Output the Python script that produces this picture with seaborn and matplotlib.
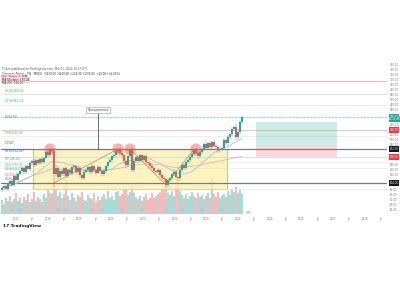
import numpy as np
import pandas as pd
import matplotlib
matplotlib.use("Agg")
import matplotlib.pyplot as plt
import matplotlib.transforms as mtransforms
from matplotlib.patches import Rectangle
import seaborn as sns

# ---------------- data ----------------
closes = [
    94, 98, 92, 102, 108, 100, 118, 110, 122, 128,
    134, 126, 138, 132, 144, 148, 140, 150, 144, 152,
    146, 154, 166, 160, 170, 168, 122, 134, 116, 128,
    122, 134, 118, 130, 124, 136, 138, 126, 134, 120,
    114, 126, 130, 136, 126, 138, 130, 124, 136, 128,
    122, 128, 138, 146, 150, 158, 160, 168, 172, 164,
    160, 148, 140, 158, 170, 130, 148, 156, 148, 160,
    150, 158, 146, 144, 138, 134, 128, 126, 130, 120,
    114, 112, 100, 110, 114, 122, 126, 116, 114, 130,
    140, 134, 146, 150, 156, 162, 170, 164, 158, 166,
    172, 182, 174, 184, 176, 186, 178, 176, 170, 172,
    174, 190, 184, 196, 202, 212, 216, 196, 206, 226,
    236]
first_open = 90
wick_hi = [
    3, 2, 4, 3, 2, 5, 3, 4, 2, 3,
    4, 3, 2, 5, 3, 2, 4, 3, 3, 2,
    4, 3, 3, 4, 4, 4, 3, 4, 5, 3,
    4, 3, 5, 2, 4, 3, 4, 3, 2, 4,
    3, 5, 4, 3, 2, 4, 3, 3, 4, 2,
    3, 4, 3, 2, 4, 3, 3, 4, 3, 4,
    3, 5, 4, 3, 3, 6, 4, 3, 4, 3,
    3, 2, 4, 3, 3, 4, 2, 3, 4, 3,
    3, 4, 2, 4, 3, 3, 4, 5, 3, 4,
    3, 4, 3, 2, 4, 3, 3, 4, 5, 3,
    4, 3, 4, 3, 5, 3, 4, 3, 2, 4,
    3, 4, 3, 4, 3, 4, 3, 6, 3, 4,
    2]
wick_lo = [
    3, 4, 2, 3, 4, 2, 3, 3, 4, 2,
    3, 4, 3, 2, 4, 3, 3, 2, 4, 3,
    3, 4, 2, 3, 3, 3, 26, 4, 3, 4,
    3, 4, 3, 4, 2, 3, 4, 3, 4, 3,
    4, 3, 2, 4, 3, 3, 4, 3, 2, 4,
    3, 3, 4, 3, 2, 4, 3, 3, 4, 3,
    4, 3, 5, 4, 3, 4, 3, 4, 3, 3,
    4, 3, 3, 4, 3, 4, 3, 4, 3, 4,
    3, 4, 6, 3, 4, 3, 4, 3, 5, 4,
    3, 4, 3, 4, 3, 4, 3, 4, 5, 3,
    4, 3, 4, 3, 4, 3, 4, 3, 5, 4,
    3, 4, 3, 4, 3, 4, 3, 5, 4, 3,
    3]
volumes = [
    60, 45, 70, 55, 80, 50, 65, 90, 55, 70,
    48, 75, 60, 85, 52, 66, 95, 58, 72, 64,
    50, 88, 70, 110, 92, 85, 140, 110, 80, 95,
    70, 88, 150, 76, 60, 90, 68, 55, 82, 74,
    96, 62, 58, 84, 70, 66, 92, 54, 78, 60,
    72, 86, 64, 98, 70, 80, 60, 94, 100, 76,
    88, 104, 110, 84, 96, 120, 90, 72, 66, 80,
    58, 74, 86, 62, 70, 92, 68, 80, 88, 96,
    102, 110, 125, 92, 84, 100, 76, 115, 150, 98,
    82, 70, 88, 64, 76, 94, 80, 68, 90, 72,
    84, 66, 78, 92, 70, 155, 86, 74, 96, 68,
    80, 88, 72, 100, 84, 110, 96, 115, 92, 104,
    88]
event_idx = [5, 9, 28, 32, 45, 50, 60, 70, 82, 90, 100, 110]

time_labels = ["2017", "Jul", "2018", "Jul", "2019", "Jul", "2020", "Jul",
               "2021", "Jul", "2022", "Jul", "2023", "Jul", "2024", "Jul",
               "2025", "Jul", "2026", "Jul", "2027", "Jul", "2028", "Jul"]

level_prices = [308, 282, 260, 210, 198, 172, 156, 146, 134, 104, 92]
level_colors = ["#f6a5a5", "#bfe3c6", "#dbe9dc", "#f4a3a8", "#dde3e0", "#787b86",
                "#bcd9f2", "#dfe6df", "#dfe6df", "#787b86", "#e3e3e3"]
level_widths = [0.6, 0.5, 0.4, 0.5, 0.4, 0.9, 0.5, 0.4, 0.4, 0.9, 0.4]

fib_prices = [284, 262, 232, 200, 178, 162, 148, 136, 126, 114, 106]
fib_texts = ["1.618(284.20)", "1.272(262.10)", "1(232.50)", "0.786(200.30)",
             "1.7500", "0.618(162.40)", "0.5(148.20)", "0.382(136.00)",
             "0.236(126.10)", "0.1(114.30)", "0(106.00)"]
fib_colors = ["#4caf50", "#26a69a", "#2962ff", "#4caf50", "#555555", "#2962ff",
              "#4caf50", "#66bb6a", "#26a69a", "#ef5350", "#777777"]

peak_idx = [24, 58, 64, 97]
peak_price = [172, 172, 172, 172]
zig1_x, zig1_y = [26, 58], [104, 172]
zig2_x, zig2_y = [64, 82, 96], [172, 100, 172]

box_x = (15.5, 112.5)
box_p = (92, 172)
entry, target, stop = 178, 226, 156
pos_x = (127, 167.5)
right_ticks = list(range(50, 341, 10))

UP, DN = "#26a69a", "#ef5350"

# ---------------- figure ----------------
sns.set_style("white")
plt.rcParams["font.family"] = ["DejaVu Sans"]
fig = plt.figure(figsize=(4, 3), dpi=100)
fig.patch.set_facecolor("white")
ax = fig.add_axes([1 / 400, 1 - 214 / 300, 386 / 400, (214 - 64) / 300])
ax2 = ax.twinx()
ax2.set_zorder(0)
ax.set_zorder(1)
ax.patch.set_visible(False)

n = len(closes)
idx = np.arange(n)
c = np.array(closes, float)
o = np.concatenate([[first_open], c[:-1]])
hi = np.maximum(o, c) + np.array(wick_hi)
lo = np.minimum(o, c) - np.array(wick_lo)
up = c >= o
cols = np.where(up, UP, DN)

df = pd.DataFrame({"i": idx, "close": c, "vol": volumes})
df["ma_fast"] = df["close"].rolling(17, min_periods=1).mean()
df["ma_slow"] = df["close"].rolling(60, min_periods=1).mean()

# volume
ax2.bar(idx, volumes, width=0.7, color=cols, alpha=0.4, linewidth=0)
ax2.set_ylim(0, 650)
ax2.axis("off")

xmin, xmax = -0.5, 192.5
ax.set_xlim(xmin, xmax)
ax.set_ylim(42, 342)

# horizontal level lines
for p, col, lw in zip(level_prices, level_colors, level_widths):
    ax.axhline(p, color=col, lw=lw, zorder=1)
ax.axhline(c[-1], color=UP, lw=0.5, ls=(0, (1, 1)), zorder=1)

# fib labels (left)
for p, t, col in zip(fib_prices, fib_texts, fib_colors):
    ax.text(1.5, p + 1, t, fontsize=2.0, color=col, ha="left", va="bottom", zorder=3)

# yellow box
ax.add_patch(Rectangle((box_x[0], box_p[0]), box_x[1] - box_x[0], box_p[1] - box_p[0],
                       facecolor="#fbf0a8", alpha=0.75, edgecolor="#b3a040", lw=0.6, zorder=0.5))

# position boxes
ax.add_patch(Rectangle((pos_x[0], entry), pos_x[1] - pos_x[0], target - entry,
                       facecolor="#26a69a", alpha=0.22, edgecolor="none", zorder=1))
ax.add_patch(Rectangle((pos_x[0], stop), pos_x[1] - pos_x[0], entry - stop,
                       facecolor="#ef5350", alpha=0.22, edgecolor="none", zorder=1))

# moving averages
sns.lineplot(data=df, x="i", y="ma_slow", ax=ax, color="#f3a59a", lw=0.5, zorder=2)
sns.lineplot(data=df, x="i", y="ma_fast", ax=ax, color="#90bff0", lw=0.5, zorder=2)

# zigzag
ax.plot(zig1_x, zig1_y, color="#8d8650", lw=0.4, zorder=2)
ax.plot(zig2_x, zig2_y, color="#8d8650", lw=0.4, zorder=2)

# candles
ax.vlines(idx, lo, hi, colors=cols, lw=0.35, zorder=3)
body_h = np.maximum(np.abs(c - o), 0.6)
ax.bar(idx, body_h, bottom=np.minimum(o, c), width=0.65, color=cols, linewidth=0, zorder=4)

# peak circles
sns.scatterplot(x=peak_idx, y=peak_price, ax=ax, s=65, color="#ef5350", alpha=0.45,
                edgecolor="none", zorder=5)

# callout
ax.plot([48, 48], [172, 244], color="#555555", lw=0.6, zorder=5)
ax.text(48, 246, "Принципиально", fontsize=1.8, ha="center", va="bottom", color="#333",
        bbox=dict(boxstyle="square,pad=0.5", fc="white", ec="#9598a1", lw=0.4), zorder=6)

# event markers on volume pane
ax.scatter(event_idx, [50] * len(event_idx), s=4, marker="s", color="#bbdefb",
           edgecolor="#64b5f6", lw=0.3, zorder=5)
ax.scatter([123], [44], s=7, marker="s", color="#f3c6ef", edgecolor="none", zorder=5)

# right price axis
tags = [(c[-1] + 1, f"{c[-1]:.2f}", UP), (c[-1] - 5, "03:12:45", UP),
        (210, "210.00", "#f23645"), (172, "172.00", "#131722"),
        (156, "156.00", "#f23645"), (104, "104.00", "#131722")]
tag_prices = [t[0] for t in tags]
tr = mtransforms.blended_transform_factory(ax.transAxes, ax.transData)
for p in right_ticks:
    if min(abs(p - tp) for tp in tag_prices) < 6.5:
        continue
    ax.text(1.008, p, f"{p:.2f}", transform=tr, fontsize=1.9, color="#777", va="center",
            ha="left", clip_on=False)
for p, txt, fc in tags:
    ax.text(1.006, p, txt, transform=tr, fontsize=1.9, color="white", va="center", ha="left",
            clip_on=False, zorder=10,
            bbox=dict(boxstyle="square,pad=0.3", fc=fc, ec="none"))

# time axis
pos = [7 + 7.93 * k for k in range(len(time_labels))]
ttr = mtransforms.blended_transform_factory(ax.transData, ax.transAxes)
for x, t in zip(pos, time_labels):
    ax.text(x, -0.02, t, transform=ttr, fontsize=1.9, color="#777", ha="center", va="top",
            clip_on=False)

ax.set_xticks([])
ax.set_yticks([])
for s in ax.spines.values():
    s.set_visible(False)
ax.set_xlabel("")
ax.set_ylabel("")

# header text
fig.text(0.005, 1 - 69 / 300, "Ticker published on TradingView.com, Mar 01, 2024 10:37 UTC",
         fontsize=2.0, color="#555", va="center")
fig.text(0.005, 1 - 74 / 300,
         "Company Name · 1W · MOEX   O230.00  H240.00  L224.00  C236.00  +10.00 (+4.42%)",
         fontsize=2.0, color="#333", va="center")
fig.text(0.005, 1 - 77 / 300, "Vol · Ticker  1.25M", fontsize=2.0, color="#333", va="center",
         bbox=dict(boxstyle="square,pad=0.2", fc="#f9d6d8", ec="none"))
fig.text(0.005, 1 - 80 / 300, "MA 50 close  170.24", fontsize=2.0, color="#333", va="center",
         bbox=dict(boxstyle="square,pad=0.2", fc="#f9d6d8", ec="none"))
fig.text(0.005, 1 - 83 / 300, "MA 200  154.10", fontsize=2.0, color="#333", va="center")

fig.text(0.008, 1 - 226 / 300, "17 TradingView", fontsize=3.2, color="#131722",
         fontweight="bold", va="center")

fig.savefig("out.png", dpi=100, facecolor="white")
